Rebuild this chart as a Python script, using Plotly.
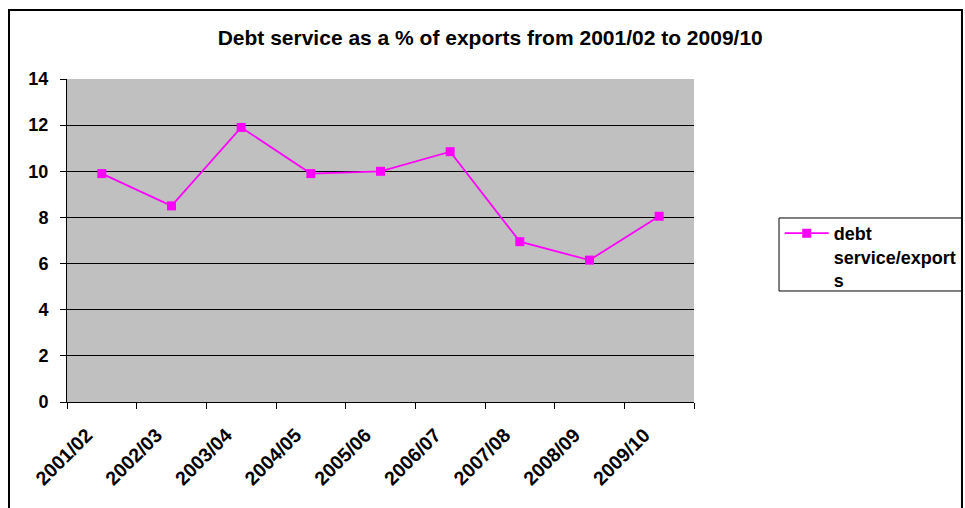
import plotly.graph_objects as go

categories = ["2001/02", "2002/03", "2003/04", "2004/05", "2005/06",
              "2006/07", "2007/08", "2008/09", "2009/10"]
debt_service = [9.9, 8.5, 11.9, 9.9, 10.0, 10.85, 6.95, 6.15, 8.05]
y_ticks = [0, 2, 4, 6, 8, 10, 12, 14]
series_name = "<b>debt<br>service/export<br>s</b>"

FONT = "Liberation Sans, Arial, sans-serif"

fig = go.Figure()
fig.add_trace(go.Scatter(
    x=categories, y=debt_service, mode="lines+markers", name=series_name,
    line=dict(color="#FF00FF", width=1.8),
    marker=dict(symbol="square", size=9, color="#FF00FF"),
))

fig.update_layout(
    width=965, height=508, autosize=False,
    margin=dict(l=67, r=271, t=79, b=106, autoexpand=False),
    paper_bgcolor="white", plot_bgcolor="#C0C0C0",
    font=dict(family=FONT, size=13, color="black"),
    title=dict(text="<b>Debt service as a % of exports from 2001/02 to 2009/10</b>",
               x=0.508, xanchor="center", y=0.925, yanchor="middle",
               font=dict(family=FONT, size=21, color="black")),
    showlegend=True,
    legend=dict(xref="container", yref="container",
                x=0.808, xanchor="left", y=0.5768, yanchor="top", valign="top",
                bgcolor="rgba(0,0,0,0)", borderwidth=0,
                font=dict(family=FONT, size=18, color="black"),
                itemwidth=44, tracegroupgap=0),
    xaxis=dict(showgrid=False, showline=True, linecolor="black", linewidth=1,
               ticks="outside", ticklen=6, tickcolor="black", tickson="boundaries",
               tickangle=-45, tickfont=dict(family=FONT, size=19.5, color="black"),
               ticklabelstandoff=13, ticklabelshift=-15,
               range=[-0.5, 8.5]),
    yaxis=dict(range=[0, 14], tickvals=y_ticks, showgrid=True, gridcolor="black",
               gridwidth=1, showline=True, linecolor="black", linewidth=1,
               ticks="outside", ticklen=6, tickcolor="black", zeroline=False,
               ticklabelstandoff=8,
               tickfont=dict(family=FONT, size=18, color="black")),
)

# bold tick labels
fig.update_xaxes(ticktext=[f"<b>{c}</b>" for c in categories], tickvals=categories)
fig.update_yaxes(ticktext=[f"<b>{v}</b>" for v in y_ticks])

# outer chart border and legend box
fig.add_shape(type="rect", xref="paper", yref="paper",
              x0=-0.0925, x1=1.4274, y0=-0.365, y1=1.2136,
              line=dict(color="black", width=2), fillcolor="rgba(0,0,0,0)",
              layer="above")
fig.add_shape(type="rect", xref="paper", yref="paper",
              x0=1.1356, x1=1.4274, y0=0.3437, y1=0.5697,
              line=dict(color="black", width=1), fillcolor="rgba(0,0,0,0)",
              layer="above")

fig.write_html("out.html", config={"displayModeBar": False, "responsive": False},
               post_script="document.body.style.margin='0';"
                           "document.body.style.overflow='hidden';")
